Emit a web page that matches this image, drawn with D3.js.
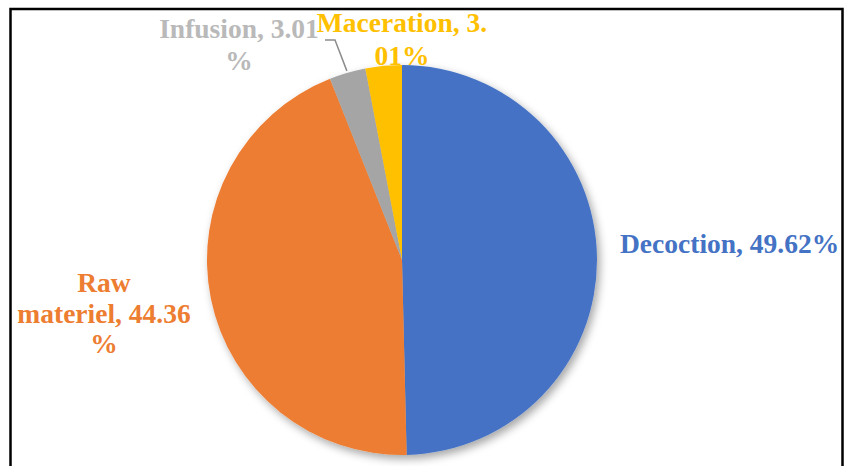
<!DOCTYPE html>
<html>
<head>
<meta charset="utf-8">
<script src="https://cdn.jsdelivr.net/npm/d3@7"></script>
<style>
body{margin:0;background:#fff;}
text{font-family:"Liberation Serif","Times New Roman",serif;font-weight:bold;}
</style>
</head>
<body>
<svg></svg>
<script>
var categories=["Decoction","Raw materiel","Infusion","Maceration"];
var values=[49.62,44.36,3.01,3.01];
var colors=["#4472C4","#ED7D31","#A5A5A5","#FFC000"];
var labelColors=["#4472C4","#ED7D31","#B9B9B9","#FFC000"];

// where each label is broken and placed
var labelLayout=[
  {breaks:[], x:620, anchor:"start", y:[253]},
  {breaks:[4,19], x:104, anchor:"middle", y:[292,323,353]},
  {breaks:[14], x:239, anchor:"middle", y:[38,70]},
  {breaks:[14], x:402, anchor:"middle", y:[32,65]}
];

var width=845;
var height=466;
var cx=402, cy=260, radius=195;

var svg=d3.select("svg")
.attr("width", width)
.attr("height", height)

var defs=svg.append("defs");
var f=defs.append("filter").attr("id","shadow")
.attr("x","-20%").attr("y","-20%").attr("width","140%").attr("height","140%");
f.append("feDropShadow")
.attr("dx",3).attr("dy",4).attr("stdDeviation",4)
.attr("flood-color","#000").attr("flood-opacity",0.35);

svg.append("rect")
.attr("x",10.5).attr("y",9)
.attr("width",832).attr("height",480)
.attr("fill","none")
.attr("stroke","#000")
.attr("stroke-width",2.5);

var data=categories.map(function(c,i){return {name:c,value:values[i],i:i};});

var pie=d3.pie().sort(null).value(function(d){return d.value;});
var arc=d3.arc().innerRadius(0).outerRadius(radius);

var g=svg.append("g")
.attr("transform","translate("+cx+","+cy+")")
.attr("filter","url(#shadow)");

g.selectAll("path")
.data(pie(data))
.enter()
.append("path")
.attr("d", arc)
.attr("fill", function(d){return colors[d.data.i];});

// leader line for Infusion
var infArc=pie(data)[2];
var mid=arc.centroid(infArc);
var ang=(infArc.startAngle+infArc.endAngle)/2;
var edge=[cx+Math.sin(ang)*(radius+2), cy-Math.cos(ang)*(radius+2)];
svg.append("polyline")
.attr("points", [[325,40],[335,40],edge].map(function(p){return p.join(",");}).join(" "))
.attr("fill","none")
.attr("stroke","#8C8C8C")
.attr("stroke-width",1.5);

var labels=svg.selectAll("text.lbl")
.data(data)
.enter()
.append("text")
.attr("class","lbl")
.attr("font-size","27.5px")
.attr("fill", function(d){return labelColors[d.i];})
.attr("text-anchor", function(d){return labelLayout[d.i].anchor;});

labels.each(function(d){
  var full=d.name+", "+d.value.toFixed(2)+"%";
  var lay=labelLayout[d.i];
  var cuts=[0].concat(lay.breaks).concat([full.length]);
  var t=d3.select(this);
  for(var k=0;k<cuts.length-1;k++){
    t.append("tspan")
    .attr("x", lay.x)
    .attr("y", lay.y[k])
    .text(full.slice(cuts[k],cuts[k+1]).trim());
  }
});
</script>
</body>
</html>
